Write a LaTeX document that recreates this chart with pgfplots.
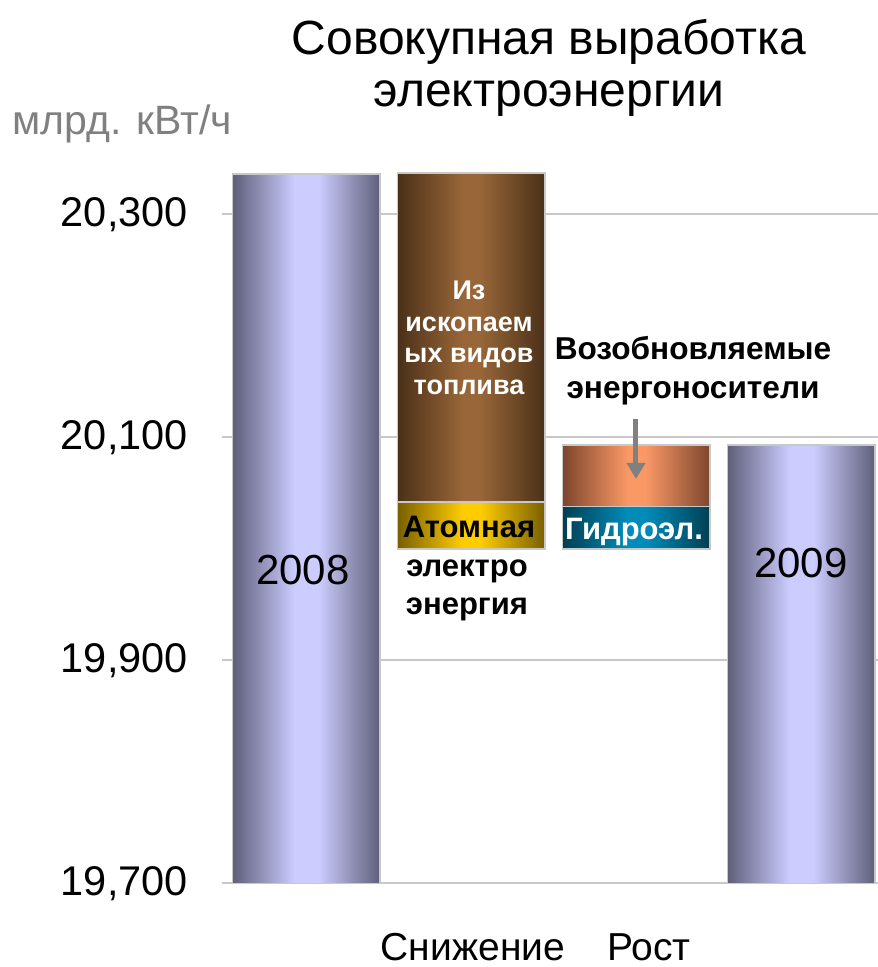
\documentclass[border=0pt]{standalone}
\usepackage{fontspec}
\setmainfont{Liberation Sans}
\usepackage{pgfplots}
\pgfplotsset{compat=1.18}
\usetikzlibrary{arrows.meta}

\definecolor{lavD}{RGB}{95,95,122}
\definecolor{lavL}{RGB}{204,204,255}
\definecolor{brnD}{RGB}{74,48,24}
\definecolor{brnL}{RGB}{152,102,56}
\definecolor{ylwD}{RGB}{120,95,0}
\definecolor{ylwL}{RGB}{255,204,0}
\definecolor{orgD}{RGB}{125,70,45}
\definecolor{orgL}{RGB}{250,152,102}
\definecolor{tealD}{RGB}{0,62,82}
\definecolor{tealL}{RGB}{0,140,185}
\definecolor{bordergray}{RGB}{200,200,200}
\definecolor{gridgray}{RGB}{200,200,200}
\definecolor{unitgray}{RGB}{128,128,128}

\pgfdeclarehorizontalshading{lavsh}{100bp}{color(0bp)=(lavD); color(25bp)=(lavD); color(46bp)=(lavL); color(54bp)=(lavL); color(75bp)=(lavD); color(100bp)=(lavD)}
\pgfdeclarehorizontalshading{brnsh}{100bp}{color(0bp)=(brnD); color(25bp)=(brnD); color(47bp)=(brnL); color(53bp)=(brnL); color(75bp)=(brnD); color(100bp)=(brnD)}
\pgfdeclarehorizontalshading{ylwsh}{100bp}{color(0bp)=(ylwD); color(25bp)=(ylwD); color(47bp)=(ylwL); color(53bp)=(ylwL); color(75bp)=(ylwD); color(100bp)=(ylwD)}
\pgfdeclarehorizontalshading{orgsh}{100bp}{color(0bp)=(orgD); color(25bp)=(orgD); color(47bp)=(orgL); color(53bp)=(orgL); color(75bp)=(orgD); color(100bp)=(orgD)}
\pgfdeclarehorizontalshading{tealsh}{100bp}{color(0bp)=(tealD); color(25bp)=(tealD); color(47bp)=(tealL); color(53bp)=(tealL); color(75bp)=(tealD); color(100bp)=(tealD)}

\begin{document}
\begin{tikzpicture}
\useasboundingbox (-222bp,-83.7bp) rectangle (656bp,883.3bp);
\begin{axis}[
  at={(0,0)}, anchor=south west,
  scale only axis, width=656bp, height=713.6bp,
  xmin=-0.512, xmax=3.464,
  ymin=19700, ymax=20340,
  clip=false,
  axis x line*=bottom, axis y line*=left,
  x axis line style={draw=gridgray, line width=2bp, -},
  y axis line style={draw=none},
  major tick length=0pt,
  ytick={19700,19900,20100,20300},
  scaled y ticks=false,
  ymajorgrids, grid style={draw=gridgray, line width=2bp},
  yticklabel style={/pgf/number format/.cd, fixed, precision=0, 1000 sep={,}, assume math mode=true, /tikz/.cd, font=\fontsize{41.5bp}{41.5bp}\selectfont, anchor=east, inner sep=0pt, xshift=-34bp},
  xtick={1.009,2.076},
  xticklabels={Снижение,Рост},
  xticklabel style={font=\fontsize{39bp}{39bp}\selectfont, anchor=base, inner sep=0pt, yshift=-77bp},
  bar/.style={draw=bordergray, line width=1.5bp, shade, mark=none},
]
% 2008 total
\addplot[bar, shading=lavsh] coordinates {(-0.447,19700) (0.447,19700) (0.447,20336) (-0.447,20336)} -- cycle;
% decline: fossil
\addplot[bar, shading=brnsh] coordinates {(0.551,20042) (1.447,20042) (1.447,20337) (0.551,20337)} -- cycle;
% decline: nuclear
\addplot[bar, shading=ylwsh] coordinates {(0.551,20000) (1.447,20000) (1.447,20042) (0.551,20042)} -- cycle;
% growth: hydro
\addplot[bar, shading=tealsh] coordinates {(1.553,20000) (2.447,20000) (2.447,20038) (1.553,20038)} -- cycle;
% growth: renewables
\addplot[bar, shading=orgsh] coordinates {(1.553,20038) (2.447,20038) (2.447,20093) (1.553,20093)} -- cycle;
% 2009 total
\addplot[bar, shading=lavsh] coordinates {(2.551,19700) (3.447,19700) (3.447,20093) (2.551,20093)} -- cycle;
\end{axis}
\begin{scope}[x=1bp,y=-1bp,shift={(-222bp,883.3bp)}]
  \tikzset{lb/.style={anchor=base, inner sep=0pt}}
  \node[lb, font=\fontsize{48bp}{48bp}\selectfont] at (549,55) {Совокупная выработка};
  \node[lb, font=\fontsize{48bp}{48bp}\selectfont] at (549,107) {электроэнергии};
  \node[lb, anchor=base west, text=unitgray, font=\fontsize{41bp}{41bp}\selectfont] at (12,135) {млрд. кВт/ч};
  \node[lb, font=\fontsize{42bp}{42bp}\selectfont] at (303,585) {2008};
  \node[lb, font=\fontsize{42bp}{42bp}\selectfont] at (801,578) {2009};
  \begin{scope}[every node/.style={lb, text=white, font=\bfseries\fontsize{27bp}{27bp}\selectfont}]
    \node at (469,300) {Из};
    \node at (469,332) {ископаем};
    \node at (469,363) {ых видов};
    \node at (469,395) {топлива};
  \end{scope}
  \begin{scope}[every node/.style={lb, font=\bfseries\fontsize{31bp}{31bp}\selectfont}]
    \node at (469,538) {Атомная};
    \node at (467,577) {электро};
    \node at (467,615) {энергия};
    \node[font=\bfseries\fontsize{31.6bp}{31.6bp}\selectfont] at (693,360) {Возобновляемые};
    \node[font=\bfseries\fontsize{31.6bp}{31.6bp}\selectfont] at (693,399) {энергоносители};
    \node[text=white] at (634,540) {Гидроэл.};
  \end{scope}
  \draw[draw=unitgray, line width=5bp, -{Triangle[width=18bp,length=16bp]}] (636,419) -- (636,479);
\end{scope}
\end{tikzpicture}
\end{document}
